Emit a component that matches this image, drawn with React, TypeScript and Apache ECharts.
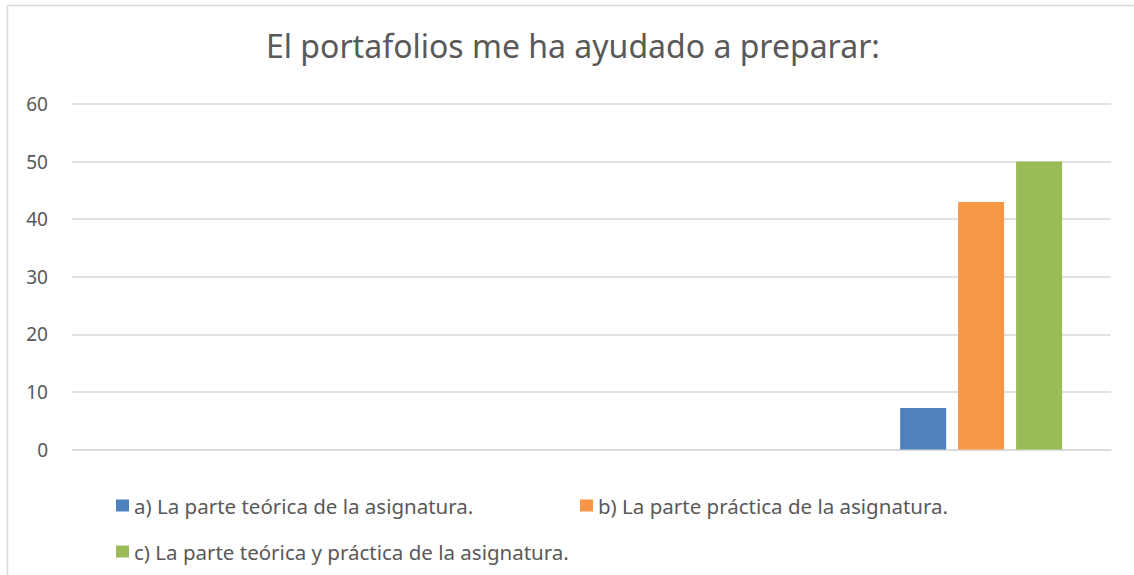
import React, { useEffect, useRef } from "react";
import * as echarts from "echarts";

const categories = ["1", "2", "3", "4"];
const seriesNames = [
  "a) La parte teórica de la asignatura.",
  "b) La parte práctica de la asignatura.",
  "c) La parte teórica y práctica de la asignatura.",
];
const valuesA = [null, null, null, 7.2];
const valuesB = [null, null, null, 43];
const valuesC = [null, null, null, 50];
const colors = ["#4F81BD", "#F79646", "#9BBB59"];
const titleText = "El portafolios me ha ayudado a preparar:";

const FONT = "'Noto Sans', sans-serif";

export default function App() {
  const ref = useRef<HTMLDivElement>(null);
  useEffect(() => {
    if (!ref.current) return;
    const chart = echarts.init(ref.current, null, { renderer: "svg" });
    const data = [valuesA, valuesB, valuesC];
    chart.setOption({
      animation: false,
      backgroundColor: "#ffffff",
      title: {
        text: titleText,
        left: 266,
        top: 29,
        padding: 0,
        textStyle: { fontFamily: FONT, fontSize: 32, fontWeight: "normal", color: "#595959" },
      },
      graphic: [
        {
          type: "rect",
          shape: { x: 7.5, y: 5.5, width: 1300, height: 700 },
          style: { fill: "none", stroke: "#d9d9d9", lineWidth: 1.5 },
          silent: true,
        },
      ],
      legend: [
        { data: [seriesNames[0]], left: 111, top: 490 },
        { data: [seriesNames[1]], left: 575, top: 490 },
        { data: [seriesNames[2]], left: 111, top: 536 },
      ].map((l) => ({
        ...l,
        icon: "rect",
        itemWidth: 13,
        itemHeight: 12,
        selectedMode: false,
        textStyle: { fontFamily: FONT, fontSize: 20.5, color: "#595959" },
      })),
      grid: { left: 72, right: 23, top: 104, bottom: 125.5, containLabel: false },
      xAxis: {
        type: "category",
        data: categories,
        axisLine: { show: true, lineStyle: { color: "#d9d9d9", width: 1.5 } },
        axisTick: { show: false },
        axisLabel: { show: false },
      },
      yAxis: {
        type: "value",
        min: 0,
        max: 60,
        interval: 10,
        axisLine: { show: false },
        axisTick: { show: false },
        axisLabel: { fontFamily: FONT, fontSize: 19, color: "#595959", margin: 24 },
        splitLine: { lineStyle: { color: "#d9d9d9", width: 1.5 } },
      },
      series: seriesNames.map((name, i) => ({
        name,
        type: "bar",
        data: data[i],
        barWidth: 46,
        barGap: "26%",
        itemStyle: { color: colors[i] },
      })),
    });
    return () => chart.dispose();
  }, []);
  return (
    <div
      ref={ref}
      style={{ position: "absolute", left: 0, top: 0, width: 1134, height: 575 }}
    />
  );
}
